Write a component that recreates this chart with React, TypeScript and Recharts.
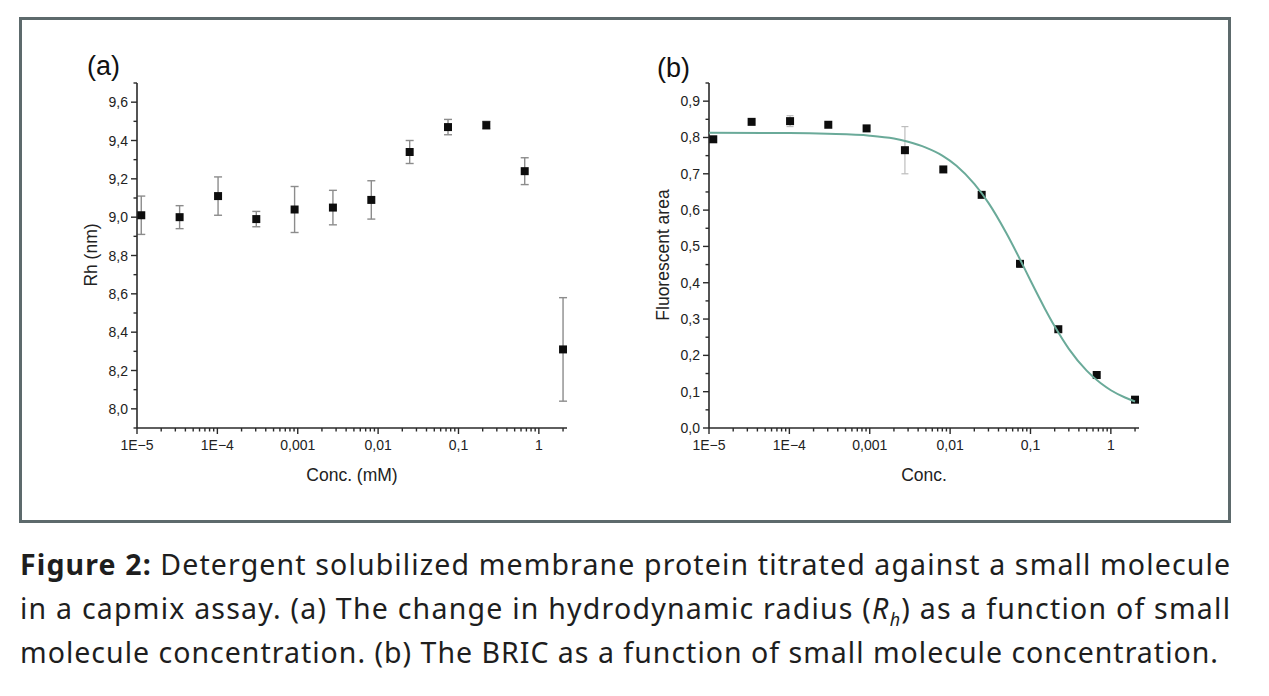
import React from "react";
import { ScatterChart, Scatter, XAxis, YAxis, ErrorBar, ZAxis, Label } from "recharts";

// ---- data ----
const concentrations = [1.13e-5, 3.39e-5, 1.02e-4, 3.05e-4, 9.14e-4, 2.74e-3, 8.23e-3, 0.0247, 0.0741, 0.222, 0.667, 2.0];
const rhValues = [9.01, 9.0, 9.11, 8.99, 9.04, 9.05, 9.09, 9.34, 9.47, 9.48, 9.24, 8.31];
const rhErrors = [0.1, 0.06, 0.1, 0.04, 0.12, 0.09, 0.1, 0.06, 0.04, 0.02, 0.07, 0.27];
const fluoValues = [0.795, 0.843, 0.845, 0.835, 0.825, 0.765, 0.712, 0.642, 0.452, 0.272, 0.146, 0.078];
const fluoErrors = [0.004, 0.004, 0.015, 0.004, 0.008, 0.065, 0.004, 0.004, 0.004, 0.004, 0.004, 0.004];

const fitConc = [1e-5, 1e-4, 3e-4, 1e-3, 2e-3, 3e-3, 5e-3, 8e-3, 0.012, 0.02, 0.03, 0.05, 0.075, 0.1, 0.15, 0.2, 0.3, 0.5, 0.75, 1.0, 1.5, 2.0];
const fitValues = [0.813, 0.812, 0.81, 0.805, 0.797, 0.788, 0.772, 0.75, 0.722, 0.672, 0.62, 0.537, 0.462, 0.406, 0.33, 0.28, 0.218, 0.158, 0.123, 0.104, 0.084, 0.073];

const xMajorTicks = [1e-5, 1e-4, 1e-3, 1e-2, 1e-1, 1];
const xTickLabels = ["1E\u22125", "1E\u22124", "0,001", "0,01", "0,1", "1"];
const xMinorMultipliers = [2, 3, 4, 5, 6, 7, 8, 9];
const xDomain = [1e-5, 2.24];

const rhTicks = [7.9, 8.0, 8.1, 8.2, 8.3, 8.4, 8.5, 8.6, 8.7, 8.8, 8.9, 9.0, 9.1, 9.2, 9.3, 9.4, 9.5, 9.6, 9.7];
const rhDomain = [7.9, 9.7];
const fluoTicks = [0, 0.05, 0.1, 0.15, 0.2, 0.25, 0.3, 0.35, 0.4, 0.45, 0.5, 0.55, 0.6, 0.65, 0.7, 0.75, 0.8, 0.85, 0.9, 0.95];
const fluoDomain = [0, 0.95];

// ---- tables built from the arrays ----
const rhData = concentrations.map((c, i) => ({ x: c, y: rhValues[i], err: rhErrors[i] }));
const fluoData = concentrations.map((c, i) => ({ x: c, y: fluoValues[i], err: fluoErrors[i] }));
const fitData = fitConc.map((c, i) => ({ x: c, y: fitValues[i] }));

const xTicks: number[] = [];
xMajorTicks.forEach((m) => {
  xTicks.push(m);
  xMinorMultipliers.forEach((k) => {
    const v = m * k;
    if (v <= xDomain[1]) xTicks.push(v);
  });
});

const FONT = "'Liberation Sans', Arial, sans-serif";
const AXIS = "#2a2a2a";
const TICK_FS = 14;
const TITLE_FS = 17.5;

const isMajorX = (v: number) => xMajorTicks.findIndex((m) => Math.abs(Math.log10(v) - Math.log10(m)) < 1e-6);

const XTick = (props: any) => {
  const { x, y, payload } = props;
  const idx = isMajorX(payload.value);
  const major = idx >= 0;
  return (
    <g>
      <line x1={x} x2={x} y1={y} y2={y + (major ? 6 : 3.5)} stroke={AXIS} strokeWidth={1.4} />
      {major && (
        <text x={x} y={y + 22} textAnchor="middle" fontSize={TICK_FS} fontFamily={FONT} fill="#222">
          {xTickLabels[idx]}
        </text>
      )}
    </g>
  );
};

const makeYTick = (majorStep: number) => (props: any) => {
  const { x, y, payload } = props;
  const v = payload.value;
  const q = v / majorStep;
  const major = Math.abs(q - Math.round(q)) < 1e-6;
  return (
    <g>
      <line x1={x - (major ? 6 : 3.5)} x2={x} y1={y} y2={y} stroke={AXIS} strokeWidth={1.4} />
      {major && (
        <text x={x - 9} y={y + 5} textAnchor="end" fontSize={TICK_FS} fontFamily={FONT} fill="#222">
          {v.toFixed(1).replace(".", ",")}
        </text>
      )}
    </g>
  );
};

const RhTick = makeYTick(0.2);
const FluoTick = makeYTick(0.1);

const CHART_W = 620;
const CHART_H = 520;
const MARGIN = { top: 83, right: 53, bottom: 32, left: 0 };

const xLabel = (text: string) => () => (
  <text x={352} y={481} textAnchor="middle" fontSize={TITLE_FS} fontFamily={FONT} fill="#222">
    {text}
  </text>
);
const yLabel = (text: string) => () => (
  <text x={97} y={255} transform="rotate(-90 97 255)" textAnchor="middle" fontSize={TITLE_FS} fontFamily={FONT} fill="#222">
    {text}
  </text>
);

const Empty = () => <g />;

function PanelA() {
  return (
    <ScatterChart width={CHART_W} height={CHART_H} margin={MARGIN}>
      <XAxis
        type="number"
        dataKey="x"
        scale="log"
        domain={xDomain}
        allowDataOverflow
        ticks={xTicks}
        interval={0}
        tick={<XTick />}
        tickLine={false}
        tickSize={0}
        tickMargin={0}
        axisLine={{ stroke: AXIS, strokeWidth: 1.6 }}
        height={60}
      >
        <Label content={xLabel("Conc. (mM)")} />
      </XAxis>
      <YAxis
        type="number"
        dataKey="y"
        domain={rhDomain}
        allowDataOverflow
        ticks={rhTicks}
        interval={0}
        tick={<RhTick />}
        tickLine={false}
        tickSize={0}
        tickMargin={0}
        axisLine={{ stroke: AXIS, strokeWidth: 1.6 }}
        width={137}
      >
        <Label content={yLabel("Rh (nm)")} />
      </YAxis>
      <ZAxis range={[90, 90]} />
      <Scatter data={rhData} fill="#0d0d0d" shape="square" isAnimationActive={false}>
        <ErrorBar dataKey="err" direction="y" width={4} stroke="#8c8c8c" strokeWidth={1.4} isAnimationActive={false} />
      </Scatter>
    </ScatterChart>
  );
}

function PanelB() {
  return (
    <ScatterChart width={CHART_W} height={CHART_H} margin={MARGIN}>
      <XAxis
        type="number"
        dataKey="x"
        scale="log"
        domain={xDomain}
        allowDataOverflow
        ticks={xTicks}
        interval={0}
        tick={<XTick />}
        tickLine={false}
        tickSize={0}
        tickMargin={0}
        axisLine={{ stroke: AXIS, strokeWidth: 1.6 }}
        height={60}
      >
        <Label content={xLabel("Conc.")} />
      </XAxis>
      <YAxis
        type="number"
        dataKey="y"
        domain={fluoDomain}
        allowDataOverflow
        ticks={fluoTicks}
        interval={0}
        tick={<FluoTick />}
        tickLine={false}
        tickSize={0}
        tickMargin={0}
        axisLine={{ stroke: AXIS, strokeWidth: 1.6 }}
        width={137}
      >
        <Label content={yLabel("Fluorescent area")} />
      </YAxis>
      <ZAxis range={[70, 70]} />
      <Scatter data={fluoData} fill="#0d0d0d" shape="square" isAnimationActive={false}>
        <ErrorBar dataKey="err" direction="y" width={3.5} stroke="#bdbdbd" strokeWidth={1.2} isAnimationActive={false} />
      </Scatter>
      <Scatter
        data={fitData}
        line={{ stroke: "#6aaa99", strokeWidth: 2 }}
        lineJointType="monotoneX"
        shape={<Empty />}
        fill="none"
        isAnimationActive={false}
      />
    </ScatterChart>
  );
}

const CAPTION_FONT = "'Noto Sans', 'DejaVu Sans', sans-serif";
const CAPTION_FS = 28.5;

export default function App() {
  return (
    <div style={{ position: "absolute", left: 0, top: 0, width: 1269, height: 696, background: "#fff", overflow: "hidden" }}>
      <div
        style={{
          position: "absolute",
          left: 19,
          top: 17,
          width: 1212,
          height: 506,
          border: "3px solid #5d6a6c",
          boxSizing: "border-box",
        }}
      />
      <div style={{ position: "absolute", left: 0, top: 0 }}>
        <PanelA />
      </div>
      <div style={{ position: "absolute", left: 572, top: 0 }}>
        <PanelB />
      </div>
      <svg width={1269} height={696} style={{ position: "absolute", left: 0, top: 0, pointerEvents: "none" }}>
        <text x={87} y={75} fontSize={27} fontFamily={FONT} fill="#111">(a)</text>
        <text x={657} y={77} fontSize={27} fontFamily={FONT} fill="#111">(b)</text>
        <text x={20} y={575} fontSize={CAPTION_FS} fontFamily={CAPTION_FONT} fill="#1e1e1e" textLength={1210} lengthAdjust="spacing">
          <tspan fontWeight="bold">Figure 2:</tspan>
          <tspan> Detergent solubilized membrane protein titrated against a small molecule</tspan>
        </text>
        <text x={20} y={619} fontSize={CAPTION_FS} fontFamily={CAPTION_FONT} fill="#1e1e1e" textLength={1210} lengthAdjust="spacing">
          <tspan>in a capmix assay. (a) The change in hydrodynamic radius (</tspan>
          <tspan fontStyle="italic">R</tspan>
          <tspan fontStyle="italic" fontSize={18} dy={7}>h</tspan>
          <tspan dy={-7}>) as a function of small</tspan>
        </text>
        <text x={20} y={663} fontSize={CAPTION_FS} fontFamily={CAPTION_FONT} fill="#1e1e1e" textLength={1198} lengthAdjust="spacing">
          molecule concentration. (b) The BRIC as a function of small molecule concentration.
        </text>
      </svg>
    </div>
  );
}
